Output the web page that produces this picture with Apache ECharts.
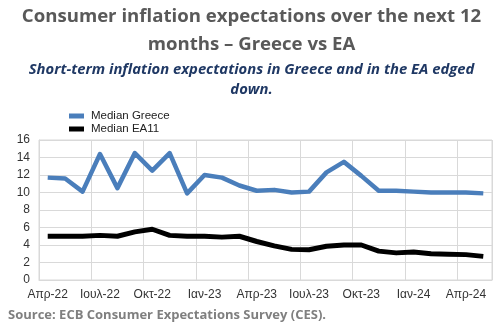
<!DOCTYPE html>
<html>
<head>
<meta charset="utf-8">
<script src="https://cdn.jsdelivr.net/npm/echarts@6/dist/echarts.min.js"></script>
<style>
  html, body { margin: 0; padding: 0; background: #fff; }
  #chart { width: 503px; height: 326px; }
</style>
</head>
<body>
<div id="chart"></div>
<script>
// Monthly survey rounds, April 2022 to May 2024
const months = [
  'Απρ-22', 'Μαϊ-22', 'Ιουν-22', 'Ιουλ-22', 'Αυγ-22', 'Σεπ-22', 'Οκτ-22', 'Νοε-22', 'Δεκ-22',
  'Ιαν-23', 'Φεβ-23', 'Μαρ-23', 'Απρ-23', 'Μαϊ-23', 'Ιουν-23', 'Ιουλ-23', 'Αυγ-23', 'Σεπ-23',
  'Οκτ-23', 'Νοε-23', 'Δεκ-23', 'Ιαν-24', 'Φεβ-24', 'Μαρ-24', 'Απρ-24', 'Μαϊ-24'
];

// Median expected inflation over the next 12 months (%)
const medianGreece = [
  11.7, 11.6, 10.1, 14.4, 10.5, 14.5, 12.5, 14.5, 9.9,
  12.0, 11.7, 10.8, 10.2, 10.3, 10.0, 10.1, 12.3, 13.5,
  11.9, 10.2, 10.2, 10.1, 10.0, 10.0, 10.0, 9.9
];
const medianEA11 = [
  5.0, 5.0, 5.0, 5.1, 5.0, 5.5, 5.8, 5.1, 5.0,
  5.0, 4.9, 5.0, 4.4, 3.9, 3.5, 3.45, 3.85, 4.0,
  4.0, 3.3, 3.1, 3.2, 3.0, 2.95, 2.9, 2.7
];

const chart = echarts.init(document.getElementById('chart'), null, { renderer: 'canvas' });

chart.setOption({
  animation: false,
  backgroundColor: '#ffffff',
  title: [
    {
      text: 'Consumer inflation expectations over the next 12\nmonths – Greece vs EA',
      left: 'center',
      top: -3,
      textStyle: {
        fontFamily: 'Open Sans',
        fontWeight: 'bold',
        fontSize: 18.6,
        lineHeight: 28.5,
        color: '#595959'
      }
    },
    {
      text: 'Short-term inflation expectations in Greece and in the EA edged\ndown.',
      left: 'center',
      top: 55,
      textStyle: {
        fontFamily: 'Open Sans',
        fontStyle: 'italic',
        fontWeight: 'bold',
        fontSize: 14.8,
        lineHeight: 20,
        color: '#1f3864'
      }
    },
    {
      text: 'Source: ECB Consumer Expectations Survey (CES).',
      left: 3,
      top: 304,
      textStyle: {
        fontFamily: 'Open Sans',
        fontWeight: 'bold',
        fontSize: 13,
        color: '#7f7f7f'
      }
    }
  ],
  legend: {
    orient: 'vertical',
    left: 64,
    top: 105,
    itemWidth: 15,
    itemHeight: 5,
    itemGap: 1,
    icon: 'rect',
    textStyle: {
      fontFamily: 'Liberation Sans',
      fontSize: 11.5,
      color: '#222',
      padding: [0, 0, 0, 2]
    },
    data: ['Median Greece', 'Median EA11']
  },
  grid: {
    left: 39,
    right: 11,
    top: 140,
    bottom: 46,
    show: true,
    borderColor: '#d9d9d9',
    borderWidth: 1
  },
  xAxis: {
    type: 'category',
    data: months,
    boundaryGap: true,
    axisLine: { show: true, lineStyle: { color: '#d9d9d9' } },
    axisTick: { show: false },
    axisLabel: {
      interval: 2,
      margin: 9,
      fontFamily: 'Liberation Sans',
      fontSize: 12,
      color: '#333'
    },
    splitLine: { show: true, interval: 2, lineStyle: { color: '#d9d9d9', width: 1 } }
  },
  yAxis: {
    type: 'value',
    min: 0,
    max: 16,
    interval: 2,
    axisLine: { show: true, lineStyle: { color: '#d9d9d9' } },
    axisTick: { show: false },
    axisLabel: {
      margin: 9,
      fontFamily: 'Liberation Sans',
      fontSize: 12,
      color: '#333'
    },
    splitLine: { show: true, lineStyle: { color: '#d9d9d9', width: 1 } }
  },
  series: [
    {
      name: 'Median Greece',
      type: 'line',
      data: medianGreece,
      symbol: 'none',
      lineStyle: { color: '#4a7ebb', width: 4.5, join: 'round' },
      itemStyle: { color: '#4a7ebb' },
      z: 3
    },
    {
      name: 'Median EA11',
      type: 'line',
      data: medianEA11,
      symbol: 'none',
      lineStyle: { color: '#000000', width: 5, join: 'round' },
      itemStyle: { color: '#000000' },
      z: 2
    }
  ]
});
</script>
</body>
</html>
